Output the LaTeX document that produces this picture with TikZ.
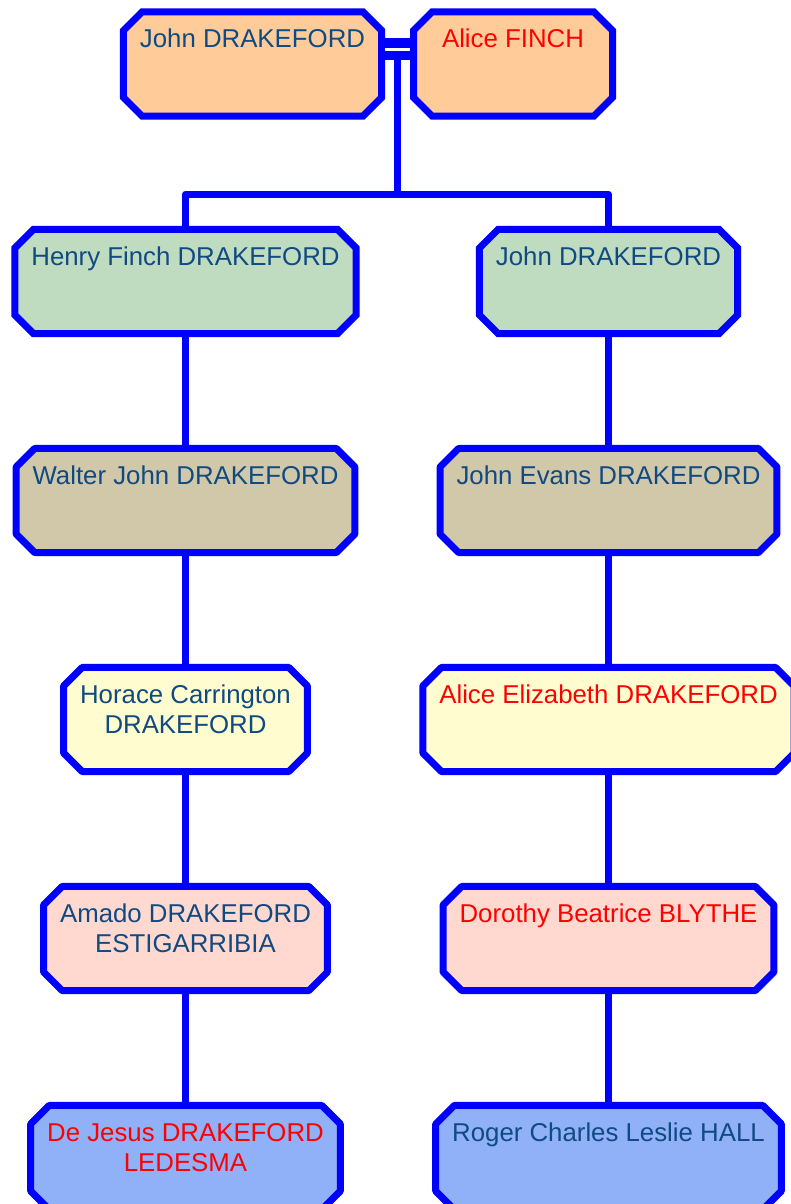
\documentclass[tikz,border=0pt]{standalone}
\usepackage{fontspec}
\setmainfont{Liberation Sans}
\usetikzlibrary{shapes.misc}
\definecolor{linkblue}{RGB}{0,0,255}
\definecolor{maletext}{RGB}{16,74,130}
\definecolor{femaletext}{RGB}{255,0,0}
\definecolor{peach}{RGB}{255,204,153}
\definecolor{sage}{RGB}{192,220,192}
\definecolor{khaki}{RGB}{208,200,168}
\definecolor{cream}{RGB}{255,253,208}
\definecolor{blush}{RGB}{255,216,208}
\definecolor{sky}{RGB}{144,176,248}
\begin{document}
\begin{tikzpicture}[x=1pt,y=-1pt,
  person/.style={chamfered rectangle, chamfered rectangle xsep=15pt,
    draw=linkblue, line width=7pt, align=center, inner xsep=1.5pt, inner ysep=0pt,
    text height=32.5pt, text depth=64.5pt, font=\fontsize{25.8}{29.5}\selectfont},
  twolines/.style={text height=62pt, text depth=35pt},
  male/.style={person, text=maletext},
  female/.style={person, text=femaletext},
  edge from parent/.style={draw=linkblue, line width=7pt, line join=round},
  level distance=219pt,
  level 1/.style={level distance=87.5pt, sibling distance=423pt, nodes={fill=sage},
    edge from parent path={(\tikzparentnode) -| (\tikzchildnode.north)}},
  level 2/.style={level distance=219pt, nodes={fill=khaki},
    edge from parent path={(\tikzparentnode.south) -- (\tikzchildnode.north)}},
  level 3/.style={nodes={fill=cream}},
  level 4/.style={nodes={fill=blush}},
  level 5/.style={nodes={fill=sky}}]
  \useasboundingbox (0,0) rectangle (790,1204);
  \node[male, fill=peach] (john) at (252.5,64) {John DRAKEFORD};
  \node[female, fill=peach, minimum width=199pt] (alice) at (513,64) {Alice FINCH};
  \draw[linkblue, line width=9.5pt, double=white, double distance=3pt]
    ([yshift=14.5pt]john.east) -- ([yshift=14.5pt]alice.west);
  \coordinate (wed) at (397,60);
  \coordinate (fork) at (397,194)
    child {node[male] (henry) {Henry Finch DRAKEFORD}
      child {node[male] (walter) {Walter John DRAKEFORD}
        child {node[male, twolines] (horace) {Horace Carrington\\DRAKEFORD}
          child {node[male, twolines] (amado) {Amado DRAKEFORD\\ESTIGARRIBIA}
            child {node[female, twolines] (dejesus) {De Jesus DRAKEFORD\\LEDESMA}}
          }
        }
      }
    }
    child {node[male] (johnjr) {John DRAKEFORD}
      child {node[male] (evans) {John Evans DRAKEFORD}
        child {node[female] (aliceliz) {Alice Elizabeth DRAKEFORD}
          child {node[female] (dorothy) {Dorothy Beatrice BLYTHE}
            child {node[male] (roger) {Roger Charles Leslie HALL}}
          }
        }
      }
    };
  \draw[linkblue, line width=7pt] (wed) -- (fork);
\end{tikzpicture}
\end{document}
